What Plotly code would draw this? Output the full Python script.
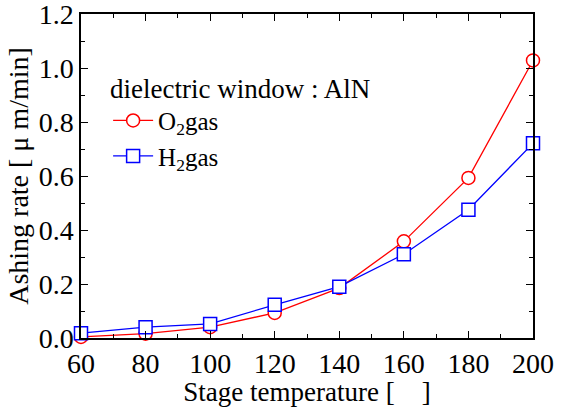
import plotly.graph_objects as go

temps = [60, 80, 100, 120, 140, 160, 180, 200]
o2_rate = [0.004, 0.016, 0.04, 0.093, 0.185, 0.358, 0.593, 1.028]
h2_rate = [0.018, 0.04, 0.052, 0.123, 0.19, 0.31, 0.475, 0.721]
x_ticks = [60, 80, 100, 120, 140, 160, 180, 200]
y_ticks = [0.0, 0.2, 0.4, 0.6, 0.8, 1.0, 1.2]

FONT = "Liberation Serif"

fig = go.Figure()
fig.add_trace(go.Scatter(
    x=temps, y=o2_rate, mode="lines+markers", name="O<sub>2</sub>gas",
    line=dict(color="#ff0000", width=1.3),
    marker=dict(symbol="circle", size=13, color="white", line=dict(color="#ff0000", width=1.5)),
    cliponaxis=False,
))
fig.add_trace(go.Scatter(
    x=temps, y=h2_rate, mode="lines+markers", name="H<sub>2</sub>gas",
    line=dict(color="#0000ff", width=1.3),
    marker=dict(symbol="square", size=13, color="white", line=dict(color="#0000ff", width=1.5)),
    cliponaxis=False,
))

axis_common = dict(
    showline=True, linecolor="black", linewidth=1.5, mirror="ticks",
    ticks="inside", ticklen=7, tickwidth=1.3, tickcolor="black",
    showgrid=False, zeroline=False, automargin=False,
    ticklabeloverflow="allow",
    tickfont=dict(family=FONT, size=28, color="black"),
)

fig.update_xaxes(
    range=[60, 200], tickvals=x_ticks, ticktext=[str(v) for v in x_ticks],
    minor=dict(ticks="inside", ticklen=4, dtick=10, tickcolor="black", tickwidth=1.2),
    title=dict(text="Stage temperature [\u00a0\u00a0\u00a0\u00a0]", font=dict(family=FONT, size=27, color="black"), standoff=0),
    ticklabelstandoff=0,
    **axis_common,
)
fig.update_yaxes(
    range=[0, 1.2], tickvals=y_ticks, ticktext=[f"{v:.1f}" for v in y_ticks],
    minor=dict(ticks="inside", ticklen=4, dtick=0.1, tickcolor="black", tickwidth=1.2),
    title=dict(text="Ashing rate [ μ m/min]", font=dict(family=FONT, size=28, color="black"), standoff=2),
    **axis_common,
)

fig.update_layout(
    width=565, height=407,
    margin=dict(l=81, r=32, t=14, b=69),
    paper_bgcolor="white", plot_bgcolor="white",
    font=dict(family=FONT, color="black"),
    legend=dict(
        x=0.06, y=0.85, xanchor="left", yanchor="top",
        bgcolor="rgba(0,0,0,0)",
        title=dict(text="dielectric window : AlN", font=dict(family=FONT, size=27, color="black"), side="top"),
        font=dict(family=FONT, size=25, color="black"),
        tracegroupgap=0, itemwidth=40,
    ),
)

fig.write_html("out.html", config={"displayModeBar": False},
               post_script="document.body.style.margin='0';")
